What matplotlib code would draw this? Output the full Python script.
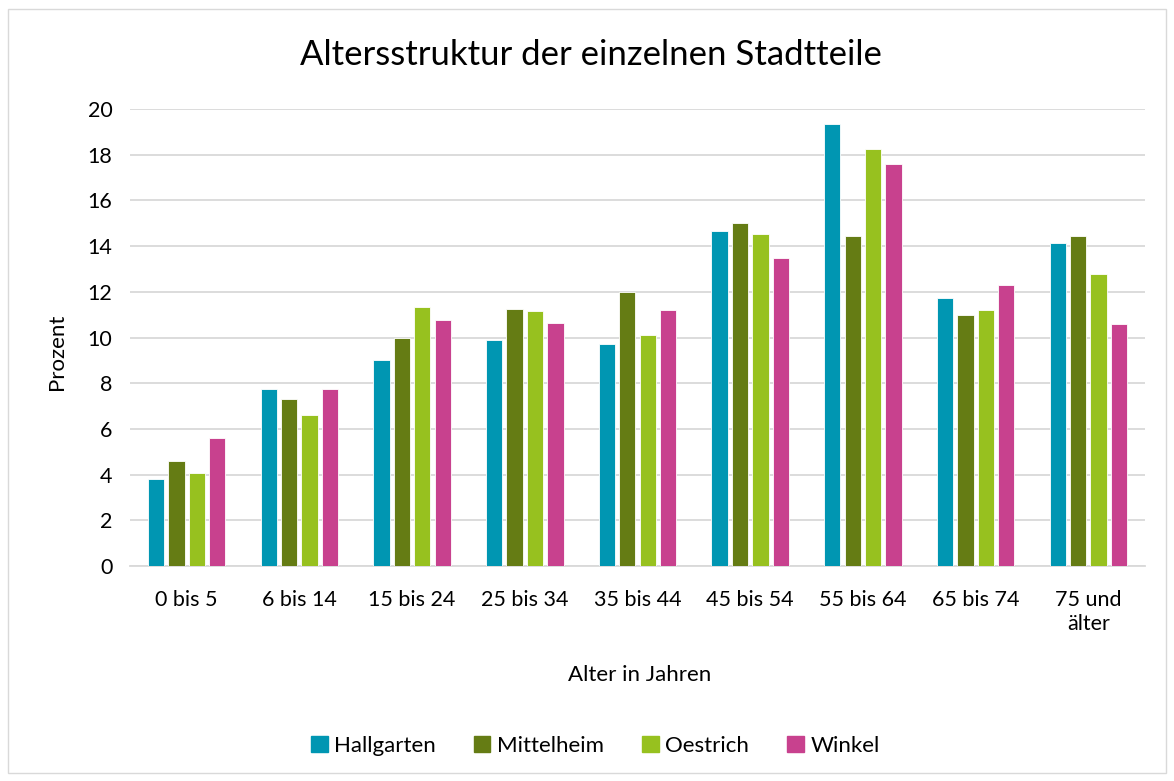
import matplotlib.pyplot as plt
import matplotlib.patches as mpatches
import numpy as np

plt.rcParams["font.family"] = ["Lato", "DejaVu Sans"]

categories = ["0 bis 5", "6 bis 14", "15 bis 24", "25 bis 34", "35 bis 44",
              "45 bis 54", "55 bis 64", "65 bis 74", "75 und\nälter"]
series = ["Hallgarten", "Mittelheim", "Oestrich", "Winkel"]
hallgarten = [3.8, 7.75, 9.0, 9.9, 9.7, 14.65, 19.35, 11.75, 14.15]
mittelheim = [4.6, 7.3, 10.0, 11.25, 12.0, 15.0, 14.45, 11.0, 14.45]
oestrich = [4.05, 6.6, 11.35, 11.15, 10.1, 14.55, 18.25, 11.2, 12.8]
winkel = [5.6, 7.75, 10.75, 10.65, 11.2, 13.5, 17.6, 12.3, 10.6]
colours = ["#0096B2", "#657C14", "#97C11F", "#C8418E"]

values = [hallgarten, mittelheim, oestrich, winkel]

fig = plt.figure(figsize=(11.74, 7.81), dpi=100)
ax = fig.add_axes([0.111, 0.2753, 0.864, 0.5851])

x = np.arange(len(categories))
step = 0.181
width = 0.145
for i, (name, vals, col) in enumerate(zip(series, values, colours)):
    ax.bar(x + (i - 1.5) * step, vals, width=width, color=col, label=name,
           edgecolor="white", linewidth=0.6, zorder=3)

ax.set_xlim(-0.5, len(categories) - 0.5)
ax.set_ylim(0, 20)
ax.set_yticks(range(0, 21, 2))
ax.set_xticks(x)
ax.set_xticklabels(categories, fontsize=15.5, color="#000000", linespacing=1.25)
ax.tick_params(axis="y", labelsize=15.5, length=0, pad=13)
ax.tick_params(axis="x", length=0, pad=17)
ax.grid(axis="y", color="#D9D9D9", linewidth=1.3, zorder=0)
for s in ["top", "right", "left"]:
    ax.spines[s].set_visible(False)
ax.spines["bottom"].set_color("#D9D9D9")
ax.spines["bottom"].set_linewidth(1.3)

# titles placed in figure coordinates to match the reference layout
fig.text(0.503, 0.930, "Altersstruktur der einzelnen Stadtteile", fontsize=25,
         ha="center", va="center")
fig.text(0.0486, 0.55, "Prozent", fontsize=16, rotation=90, ha="center", va="center")
fig.text(0.545, 0.1357, "Alter in Jahren", fontsize=16, ha="center", va="center")

handles = [mpatches.Patch(color=c, label=n) for n, c in zip(series, colours)]
fig.legend(handles=handles, loc="center", bbox_to_anchor=(0.507, 0.045), ncol=4,
           frameon=False, fontsize=16, handlelength=0.75, handleheight=0.75,
           handletextpad=0.3, columnspacing=1.7)

fig.add_artist(mpatches.Rectangle((0.007, 0.01), 0.986, 0.978, transform=fig.transFigure,
                                  fill=False, edgecolor="#D9D9D9", linewidth=1))

fig.savefig("out.png", dpi=100)
